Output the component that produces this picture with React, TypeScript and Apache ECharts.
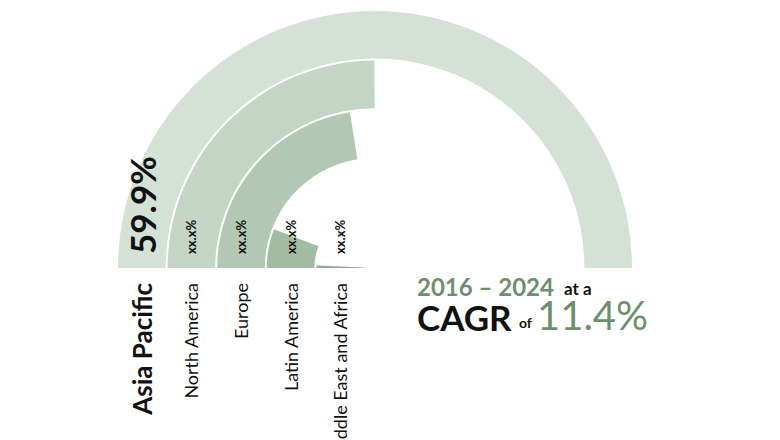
import React, { useEffect, useRef } from 'react';
import * as echarts from 'echarts';

// Regions from the outer ring to the inner ring
const regions = ['Asia Pacific', 'North America', 'Europe', 'Latin America', 'Middle East and Africa'];
// Share values read from the arc lengths (half circle = 59.9)
const shares = [59.9, 29.9, 26.9, 7.0, 0.8];
const shareLabels = ['59.9%', 'xx.x%', 'xx.x%', 'xx.x%', 'xx.x%'];
const halfCircleValue = 59.9;
const ringColors = ['#d4e1d5', '#c4d5c5', '#b3c8b4', '#a2bba3', '#8fad90'];

const periodText = '2016 – 2024';
const atText = 'at a';
const cagrText = 'CAGR';
const ofText = 'of';
const cagrValue = '11.4%';

const GREEN = '#6e8f6f';
const DARK = '#111111';
const FONT = 'Lato, "Open Sans", sans-serif';

export default function App() {
  const ref = useRef<HTMLDivElement>(null);
  useEffect(() => {
    const chart = echarts.init(ref.current!, null, { renderer: 'svg' });
    const innerFirst = [...regions].reverse();
    chart.setOption({
      animation: false,
      backgroundColor: '#ffffff',
      polar: { center: [375, 268], radius: [10, 258] },
      angleAxis: {
        type: 'value',
        min: 0,
        max: halfCircleValue * 2,
        startAngle: 180,
        clockwise: true,
        show: false,
      },
      radiusAxis: { type: 'category', data: innerFirst, show: false },
      series: [
        {
          type: 'bar',
          coordinateSystem: 'polar',
          barCategoryGap: '4%',
          silent: true,
          z: 1,
          data: innerFirst.map((name) => {
            const i = regions.indexOf(name);
            return { value: shares[i], itemStyle: { color: ringColors[i] } };
          }),
        },
      ],
    });

    const graphics: any[] = [];
    regions.forEach((name, i) => {
      const idx = regions.length - 1 - i;
      const p = chart.convertToPixel({ seriesIndex: 0 } as any, [idx, 0]) as unknown as number[];
      const outer = i === 0;
      graphics.push({
        type: 'text',
        x: p[0],
        y: p[1] + 15,
        rotation: Math.PI / 2,
        silent: true,
        z: 100,
        style: {
          text: name,
          align: 'right',
          verticalAlign: 'middle',
          fontFamily: FONT,
          fontSize: outer ? 26 : 18,
          fontWeight: outer ? 'bold' : 'normal',
          fill: DARK,
        },
      });
      graphics.push({
        type: 'text',
        x: p[0],
        y: p[1] - 14,
        rotation: Math.PI / 2,
        silent: true,
        z: 100,
        style: {
          text: shareLabels[i],
          align: 'left',
          verticalAlign: 'middle',
          fontFamily: FONT,
          fontSize: outer ? 35 : 13,
          fontWeight: 'bold',
          fill: DARK,
        },
      });
    });

    const tok = (text: string, x: number, baseline: number, size: number, bold: boolean, color: string) => ({
      type: 'text',
      x,
      y: baseline - size * 0.3,
      silent: true,
      z: 100,
      style: {
        text,
        align: 'left',
        verticalAlign: 'middle',
        fontFamily: FONT,
        fontSize: size,
        lineHeight: Math.round(size * 0.8),
        fontWeight: bold ? 'bold' : 'normal',
        fill: color,
      },
    });
    graphics.push(tok(periodText, 417, 294, 24, true, GREEN));
    graphics.push(tok(atText, 564, 294, 17, true, DARK));
    graphics.push(tok(cagrText, 417, 327, 35, true, DARK));
    graphics.push(tok(ofText, 519, 327, 14, true, DARK));
    graphics.push(tok(cagrValue, 537, 327, 40, false, GREEN));

    chart.setOption({ graphic: graphics });
    return () => chart.dispose();
  }, []);
  return (
    <div
      ref={ref}
      style={{ position: 'absolute', left: 0, top: 0, width: 780, height: 440, background: '#fff' }}
    />
  );
}
